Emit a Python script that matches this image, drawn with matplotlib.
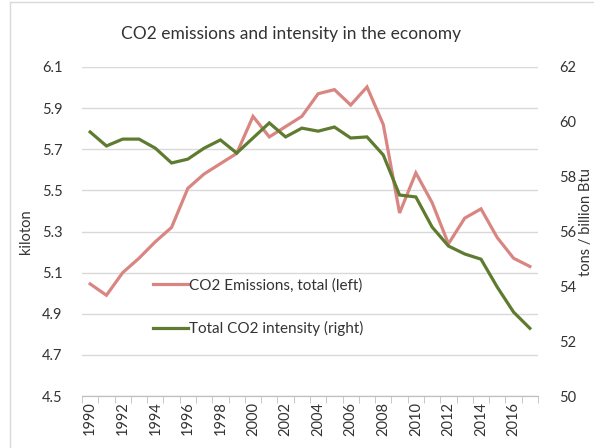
import numpy as np
import matplotlib
matplotlib.use('Agg')
import matplotlib.pyplot as plt
from matplotlib.lines import Line2D

plt.rcParams['font.family'] = ['Lato', 'DejaVu Sans']

# Data
years = list(range(1990, 2018))
emissions = [5.045, 4.99, 5.10, 5.17, 5.25, 5.32, 5.51, 5.58, 5.63, 5.68,
             5.86, 5.76, 5.81, 5.86, 5.97, 5.99, 5.915, 6.003, 5.82, 5.39,
             5.585, 5.44, 5.24, 5.365, 5.41, 5.27, 5.17, 5.13]
intensity = [59.63, 59.12, 59.37, 59.37, 59.04, 58.50, 58.64, 59.04, 59.34, 58.86,
             59.41, 59.96, 59.45, 59.77, 59.66, 59.81, 59.41, 59.45, 58.79, 57.33,
             57.26, 56.16, 55.47, 55.18, 54.99, 53.97, 53.06, 52.47]
left_ticks = [4.5, 4.7, 4.9, 5.1, 5.3, 5.5, 5.7, 5.9, 6.1]
right_ticks = [50, 52, 54, 56, 58, 60, 62]

red = '#d98682'
green = '#5e7b2f'
txt = '#333333'

fig = plt.figure(figsize=(5.94, 4.48), dpi=100)
ax = fig.add_axes([82/594, 1-396/448, 456/594, 329/448])
ax2 = ax.twinx()

x = np.arange(len(years))
ax.plot(x, emissions, color=red, lw=2.3, solid_joinstyle='miter')
ax2.plot(x, intensity, color=green, lw=2.3, solid_joinstyle='miter')

ax.set_xlim(-0.5, len(years)-0.5)
ax.set_ylim(4.5, 6.1)
ax2.set_ylim(50, 62)
ax.set_yticks(left_ticks)
ax.set_yticklabels(['%.1f' % t for t in left_ticks])
ax2.set_yticks(right_ticks)

# category axis: labels every other year, tick marks between categories
ax.set_xticks(x[::2])
ax.set_xticklabels([str(y) for y in years[::2]], rotation=90)
ax.set_xticks(np.arange(-0.5, len(years)), minor=True)
ax.tick_params(axis='x', which='major', length=0, pad=4, labelsize=10.5, labelcolor=txt)
ax.tick_params(axis='x', which='minor', length=5, color='#bfbfbf', direction='out')
ax.tick_params(axis='y', length=0, pad=14, labelsize=10.5, labelcolor=txt)
ax2.tick_params(axis='y', length=0, pad=15, labelsize=10.5, labelcolor=txt)

ax.grid(axis='y', color='#d9d9d9', lw=1)
ax.set_axisbelow(True)
for a in (ax, ax2):
    for s in ('top', 'left', 'right'):
        a.spines[s].set_visible(False)
    a.spines['bottom'].set_color('#bfbfbf')

ax.set_ylabel('kiloton', fontsize=10.5, color=txt)
ax.yaxis.set_label_coords(-0.107, 0.5)
ax2.set_ylabel('tons / billion Btu', fontsize=10.5, color=txt)
ax2.yaxis.set_label_coords(1.091, 0.53)

handles = [Line2D([], [], color=red, lw=2.3), Line2D([], [], color=green, lw=2.3)]
ax2.legend(handles, ['CO2 Emissions, total (left)', 'Total CO2 intensity (right)'],
           loc='upper left', bbox_to_anchor=(0.155, 0.358), frameon=False,
           fontsize=11, handlelength=2.3, handletextpad=0.1, labelspacing=1.85,
           borderpad=0, borderaxespad=0, labelcolor=txt)

fig.text(291/594, 1-34/448, 'CO2 emissions and intensity in the economy',
         ha='center', va='center', fontsize=12.5, color=txt)

# chart area border
fig.add_artist(Line2D([10/594, 1], [1-2.5/448]*2, color='#d9d9d9', lw=1))
fig.add_artist(Line2D([10/594]*2, [0, 1-2.5/448], color='#d9d9d9', lw=1))

fig.savefig('out.png', dpi=100)
